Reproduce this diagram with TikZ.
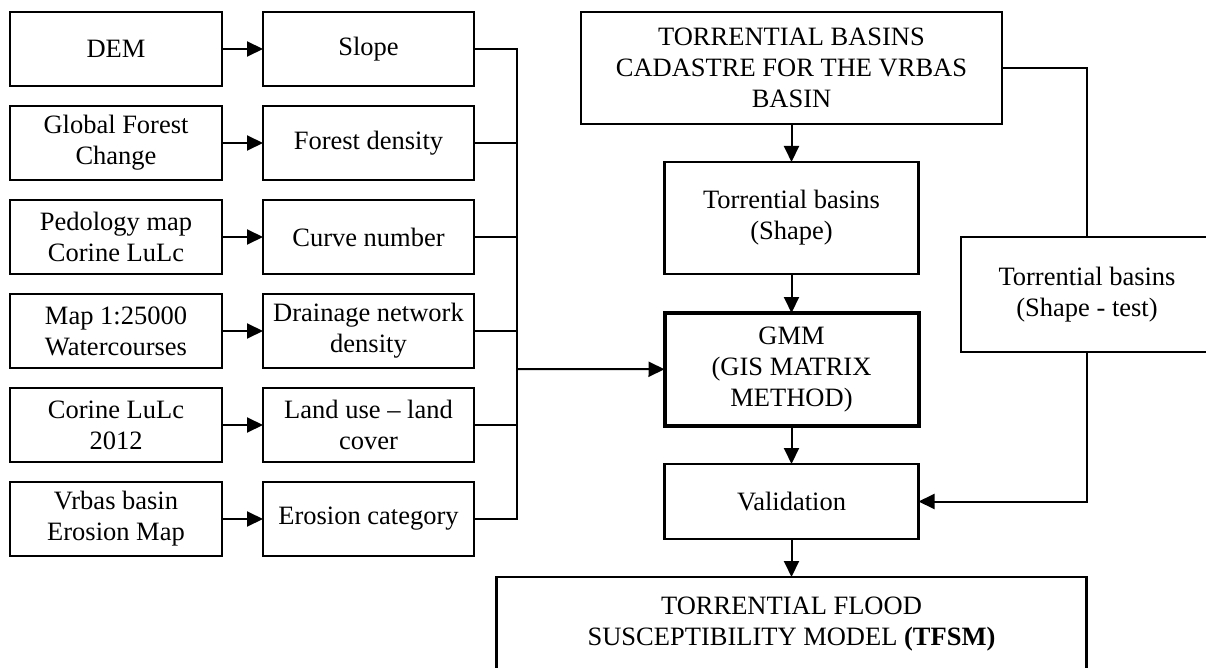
\documentclass[tikz,border=0pt]{standalone}
\usepackage{fontspec}
\setmainfont{Liberation Serif}
\usetikzlibrary{positioning,arrows.meta}

\tikzset{
  box/.style={draw, line width=2.2pt, inner sep=2pt, outer sep=0pt, align=center,
    font=\fontsize{26.5}{31}\selectfont},
  srcbox/.style={box, minimum width=212pt, minimum height=74pt},
  parbox/.style={box, minimum width=211pt, minimum height=74pt},
  colbox/.style={box, minimum width=254pt},
  link/.style={line width=2pt},
  flow/.style={line width=2pt, -{Triangle[length=16pt,width=15pt]}},
}

\begin{document}
\begin{tikzpicture}[x=1pt, y=-1pt]
    \useasboundingbox (0,0) rectangle (1206,668);

    \node[srcbox] (dem) at (116,49) {DEM};
    \node[srcbox, below=20pt of dem] (gfc) {Global Forest\\Change};
    \node[srcbox, below=20pt of gfc] (pedo) {Pedology map\\Corine LuLc};
    \node[srcbox, below=20pt of pedo] (map) {Map 1:25000\\Watercourses};
    \node[srcbox, below=20pt of map] (corine) {Corine LuLc\\2012};
    \node[srcbox, below=20pt of corine] (vrbas) {Vrbas basin\\Erosion Map};

    \node[parbox, right=41pt of dem] (slope) {Slope};
    \node[parbox, right=41pt of gfc] (forest) {Forest density};
    \node[parbox, right=41pt of pedo] (cn) {Curve number};
    \node[parbox, right=41pt of map] (drain) {Drainage network\\density};
    \node[parbox, right=41pt of corine] (lulc) {Land use -- land\\cover};
    \node[parbox, right=41pt of vrbas] (erosion) {Erosion category};

    \node[box, minimum width=421pt, minimum height=112pt] (cad) at (791.5,68)
        {TORRENTIAL BASINS\\CADASTRE FOR THE VRBAS\\BASIN};
    \node[colbox, minimum height=112pt, below=38pt of cad] (shape) {Torrential basins\\(Shape)};
    \node[colbox, line width=4pt, minimum height=113pt, below=39pt of shape] (gmm)
        {GMM\\(GIS MATRIX\\METHOD)};
    \node[colbox, minimum height=75pt, below=38pt of gmm] (valid) {Validation};
    \node[box, minimum width=590pt, minimum height=95pt, below=38pt of valid] (tfsm)
        {TORRENTIAL FLOOD\\SUSCEPTIBILITY MODEL \textbf{(TFSM)}};
    \node[box, minimum width=252pt, minimum height=115pt] (test) at (1087,294.5)
        {Torrential basins\\(Shape - test)};

    \coordinate (bus) at (517,369);

    \foreach \a/\b in {dem/slope, gfc/forest, pedo/cn, map/drain, corine/lulc, vrbas/erosion}
        \draw[flow] (\a) -- (\b);

    \draw[link] (slope.east) -| (bus |- erosion.east) -- (erosion.east);
    \foreach \b in {forest, cn, drain, lulc}
        \draw[link] (\b.east) -- (\b.east -| bus);
    \draw[flow] (bus) -- (gmm);

    \path[flow]
    (cad) edge (shape)
    (shape) edge (gmm)
    (gmm) edge (valid)
    (valid) edge (tfsm)
    ;

    \draw[link] (cad.east) -| (test.north);
    \draw[flow] (test.south) |- (valid.east);
\end{tikzpicture}
\end{document}
